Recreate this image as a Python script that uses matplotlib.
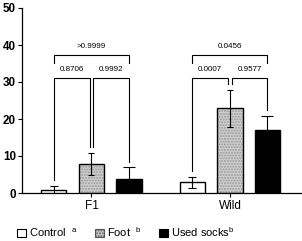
import matplotlib
matplotlib.use("Agg")
import matplotlib.pyplot as plt
from matplotlib.patches import Patch
import numpy as np

plt.rcParams['font.family'] = ['Liberation Sans', 'DejaVu Sans']
plt.rcParams['mathtext.fontset'] = 'custom'
plt.rcParams['mathtext.rm'] = 'Liberation Sans'
plt.rcParams['mathtext.it'] = 'Liberation Sans'

# ---- data ----
groups = ["F1", "Wild"]
series = ["Control", "Foot", "Used socks"]
series_sup = ["a", "b", "b"]
means = {
    "Control": [0.8, 2.9],
    "Foot": [7.8, 22.9],
    "Used socks": [3.9, 16.9],
}
errors = {
    "Control": [1.1, 1.5],
    "Foot": [3.0, 5.0],
    "Used socks": [3.0, 3.9],
}
# comparisons: (group index, series i, series j, label, level)
comparisons = [
    (0, 0, 1, "0.8706", 0),
    (0, 1, 2, "0.9992", 0),
    (0, 0, 2, ">0.9999", 1),
    (1, 0, 1, "0.0007", 0),
    (1, 1, 2, "0.9577", 0),
    (1, 0, 2, "0.0456", 1),
]
yticks = [0, 10, 20, 30, 40, 50]

# ---- styles ----
face = {"Control": "white", "Foot": "#cfcfcf", "Used socks": "black"}
capsizes = {"Control": 2.6, "Foot": 2.2, "Used socks": 4.4}
group_gap = 3.693
bar_w = 0.667

fig = plt.figure(figsize=(3.02, 2.41), dpi=100)
ax = fig.add_axes([22/302, 1-193/241, 1-22/302, (193-8)/241])

def xpos(g, s):
    return g*group_gap + (s-1)

for s, name in enumerate(series):
    xs = [xpos(g, s) for g in range(len(groups))]
    if name == "Foot":
        ax.bar(xs, means[name], width=bar_w, color=face[name], edgecolor="#9a9a9a",
               hatch="......", linewidth=0, zorder=2)
        ax.bar(xs, means[name], width=bar_w, fill=False, edgecolor="black",
               linewidth=1.0, zorder=3)
    else:
        ax.bar(xs, means[name], width=bar_w, color=face[name], edgecolor="black",
               linewidth=1.0, zorder=3)
    ax.errorbar(xs, means[name], yerr=errors[name], fmt="none", ecolor="black",
                elinewidth=0.8, capsize=capsizes[name], capthick=0.8, zorder=4)

# brackets
low_y, high_y = 31.0, 37.3
gap = 1.6
for g, i, j, label, lvl in comparisons:
    si, sj = series[i], series[j]
    xi, xj = xpos(g, i), xpos(g, j)
    if lvl == 0:
        y = low_y
        if j - i == 1:
            if i == 1:
                xi += 0.05
            if j == 1:
                xj -= 0.05
        bi = means[si][g] + errors[si][g] + gap
        bj = means[sj][g] + errors[sj][g] + gap
        ty = 33.4
    else:
        y = high_y
        bi = bj = y - 2.1
        ty = 39.7
    ax.plot([xi, xi, xj, xj], [bi, y, y, bj], color="black", lw=0.8,
            solid_joinstyle="miter", zorder=5, clip_on=False)
    ax.text((xi+xj)/2, ty, label, ha="center", va="center", fontsize=5.8)

ax.set_ylim(0, 50)
ax.set_xlim(-1.853, 5.613)
ax.set_yticks(yticks)
ax.set_yticklabels([str(t) for t in yticks], fontweight="bold", fontsize=8.4)
ax.set_xticks([g*group_gap for g in range(len(groups))])
ax.set_xticklabels(groups, fontsize=8.5)
ax.tick_params(axis="both", direction="out", length=3, width=0.8, pad=1.5)
ax.tick_params(axis="x", pad=2)
for sp in ["top", "right"]:
    ax.spines[sp].set_visible(False)
for sp in ["left", "bottom"]:
    ax.spines[sp].set_linewidth(0.9)

handles = []
for name, sup in zip(series, series_sup):
    if name == "Foot":
        h = Patch(facecolor=face[name], edgecolor="#555555", hatch="......", linewidth=0.8)
    else:
        h = Patch(facecolor=face[name], edgecolor="black", linewidth=0.8)
    handles.append(h)
labels = [f"{n}  $^{{{s}}}$" if n != "Used socks" else f"{n}$^{{{s}}}$"
          for n, s in zip(series, series_sup)]
fig.legend(handles, labels, loc="center left", bbox_to_anchor=(17/302, 1-232/241),
           ncol=3, frameon=False, fontsize=8, handlelength=0.8, handleheight=0.8,
           handletextpad=0.25, columnspacing=1.6, borderpad=0, borderaxespad=0)

fig.savefig("out.png", dpi=100)
